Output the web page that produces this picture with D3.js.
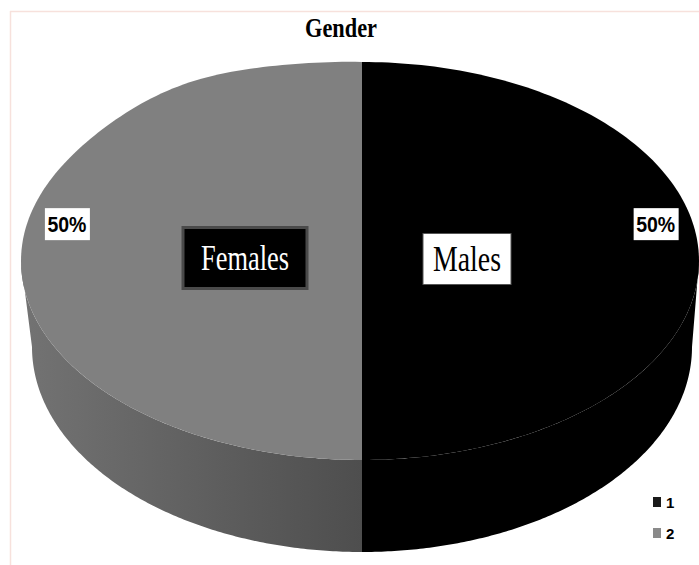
<!DOCTYPE html>
<html>
<head>
<meta charset="utf-8">
<script src="https://cdn.jsdelivr.net/npm/d3@7/dist/d3.min.js"></script>
<style>
  html, body { margin: 0; padding: 0; background: #fff; }
  svg { display: block; }
</style>
</head>
<body>
<script>
// ---- data ----
const title = "Gender";
const legendKeys = ["1", "2"];
const sliceNames = ["Males", "Females"];
const sliceValues = [50, 50];
const sliceColors = ["#000000", "#808080"];
const legendColors = ["#1a1a1a", "#8a8a8a"];

// ---- layout ----
const W = 699, H = 565;
const cx = 362, cy = 261, rxL = 341, rxR = 337, ry = 199;
const cyB = 347, rxB = 330, ryB = 205;

const svg = d3.select("body").append("svg").attr("width", W).attr("height", H);

// faint frame
svg.append("line").attr("x1", 10.5).attr("x2", 10.5).attr("y1", 11).attr("y2", H)
  .attr("stroke", "#f7e1dc").attr("stroke-width", 1.5);
svg.append("line").attr("x1", 10).attr("x2", W).attr("y1", 11.5).attr("y2", 11.5)
  .attr("stroke", "#f7e1dc").attr("stroke-width", 1.5);

const defs = svg.append("defs");
const grad = defs.append("linearGradient").attr("id", "graySide")
  .attr("gradientUnits", "userSpaceOnUse")
  .attr("x1", cx - rxL).attr("x2", cx).attr("y1", 0).attr("y2", 0);
grad.append("stop").attr("offset", "0%").attr("stop-color", "#737373");
grad.append("stop").attr("offset", "100%").attr("stop-color", "#4e4e4e");

const pie = d3.pie().sort(null).value(d => d)(sliceValues);

// projection of angle (0 = top, clockwise) onto the top rim
const rad = Math.PI / 180;
function topPt(a) {
  const s = Math.sin(a), c = Math.cos(a);
  let y = cy - ry * c;
  if (s < 0 && c > 0) {               // back-left rim is a bit flatter
    const t = 2 * Math.PI - a;
    y -= 7 * Math.exp(-Math.pow((t - 32 * rad) / (18 * rad), 2));
  }
  return [cx + (s < 0 ? rxL : rxR) * s, y];
}
function botPt(a) {
  return [cx + rxB * Math.sin(a), cyB - ryB * Math.cos(a)];
}
function pts(fn, a0, a1) {
  const n = 160, out = [];
  for (let i = 0; i <= n; i++) out.push(fn(a0 + (a1 - a0) * i / n));
  return out;
}

const line = d3.line();

// side walls (front half: angles between PI/2 and 3PI/2)
pie.forEach((p, i) => {
  const a0 = Math.max(p.startAngle, Math.PI / 2);
  const a1 = Math.min(p.endAngle, 3 * Math.PI / 2);
  if (a1 <= a0) return;
  const poly = pts(topPt, a0, a1).concat(pts(botPt, a1, a0));
  svg.append("path")
    .attr("d", line(poly) + "Z")
    .attr("fill", i === 0 ? "#000" : "url(#graySide)");
});

// top faces
pie.forEach((p, i) => {
  const poly = [[cx, cy]].concat(pts(topPt, p.startAngle, p.endAngle));
  svg.append("path")
    .attr("d", line(poly) + "Z")
    .attr("fill", sliceColors[i]);
});

// percentage labels
const total = d3.sum(sliceValues);
const pctAngle = 1.36, pctK = 0.885;
pie.forEach((p, i) => {
  const side = i === 0 ? 1 : -1;
  const lx = cx + side * (side > 0 ? rxR : rxL) * pctK * Math.sin(pctAngle) - (side > 0 ? -2 : 0);
  const ly = cy - ry * pctK * Math.cos(pctAngle);
  svg.append("rect").attr("x", lx - 22).attr("y", ly - 16).attr("width", 45).attr("height", 32)
    .attr("fill", "#fff");
  svg.append("text").attr("x", lx).attr("y", ly + 8)
    .attr("text-anchor", "middle")
    .attr("font-family", "Liberation Sans, Arial, sans-serif")
    .attr("font-weight", "bold").attr("font-size", 22)
    .attr("textLength", 39).attr("lengthAdjust", "spacingAndGlyphs")
    .attr("fill", "#000")
    .text(Math.round(p.value / total * 100) + "%");
});

// name boxes
const nameBox = [
  { dx: 105, dy: -2, w: 88, h: 51, fill: "#fff", stroke: "#555", sw: 1, color: "#000", tl: 68 },
  { dx: -117, dy: -3, w: 124, h: 61, fill: "#000", stroke: "#4a4a4a", sw: 3, color: "#fff", tl: 88 }
];
sliceNames.forEach((name, i) => {
  const b = nameBox[i];
  const bx = cx + b.dx, by = cy + b.dy;
  svg.append("rect").attr("x", bx - b.w / 2).attr("y", by - b.h / 2)
    .attr("width", b.w).attr("height", b.h)
    .attr("fill", b.fill).attr("stroke", b.stroke).attr("stroke-width", b.sw);
  svg.append("text").attr("x", bx).attr("y", by + 12)
    .attr("text-anchor", "middle")
    .attr("font-family", "Liberation Serif, Times New Roman, serif")
    .attr("font-size", 36)
    .attr("textLength", b.tl).attr("lengthAdjust", "spacingAndGlyphs")
    .attr("fill", b.color)
    .text(name);
});

// title
svg.append("text").attr("x", 341).attr("y", 37)
  .attr("text-anchor", "middle")
  .attr("font-family", "Liberation Serif, Times New Roman, serif")
  .attr("font-weight", "bold").attr("font-size", 28)
  .attr("textLength", 72).attr("lengthAdjust", "spacingAndGlyphs")
  .attr("fill", "#000")
  .text(title);

// legend
const ly0 = 502, lstep = 31;
legendKeys.forEach((k, i) => {
  svg.append("rect").attr("x", 653).attr("y", ly0 + i * lstep - 5)
    .attr("width", 8).attr("height", 10).attr("fill", legendColors[i]);
  svg.append("text").attr("x", 666).attr("y", ly0 + i * lstep + 6)
    .attr("font-family", "Liberation Sans, Arial, sans-serif")
    .attr("font-weight", "bold").attr("font-size", 15)
    .attr("fill", "#000")
    .text(k);
});
</script>
</body>
</html>
